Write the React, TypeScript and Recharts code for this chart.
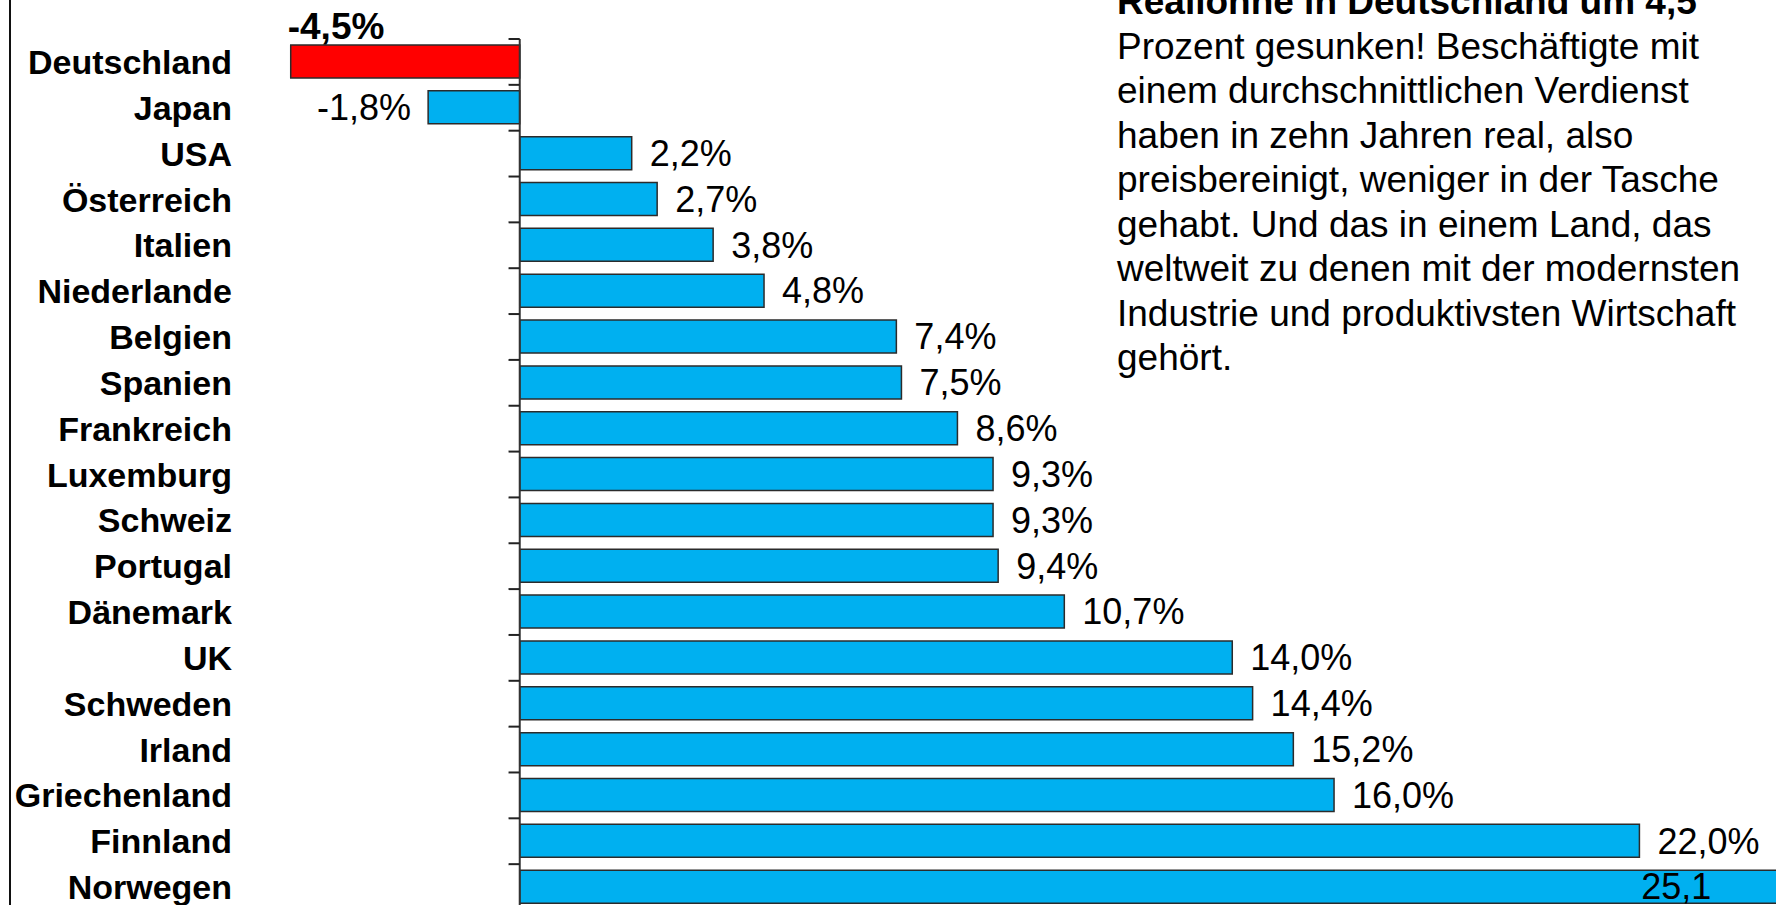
import React from 'react';
import { BarChart, Bar, XAxis, YAxis, Cell, LabelList, ReferenceLine } from 'recharts';

const countries = [
  'Deutschland', 'Japan', 'USA', 'Österreich', 'Italien', 'Niederlande', 'Belgien',
  'Spanien', 'Frankreich', 'Luxemburg', 'Schweiz', 'Portugal', 'Dänemark', 'UK',
  'Schweden', 'Irland', 'Griechenland', 'Finnland', 'Norwegen',
];
const changes = [
  -4.5, -1.8, 2.2, 2.7, 3.8, 4.8, 7.4, 7.5, 8.6, 9.3, 9.3, 9.4, 10.7, 14.0, 14.4,
  15.2, 16.0, 22.0, 25.1,
];
const valueLabels = [
  '-4,5%', '-1,8%', '2,2%', '2,7%', '3,8%', '4,8%', '7,4%', '7,5%', '8,6%', '9,3%',
  '9,3%', '9,4%', '10,7%', '14,0%', '14,4%', '15,2%', '16,0%', '22,0%', '25,1',
];
const highlighted = 'Deutschland';
const noteTitle = 'Reallöhne in Deutschland um 4,5';
const noteLines = [
  'Prozent gesunken! Beschäftigte mit',
  'einem durchschnittlichen Verdienst',
  'haben in zehn Jahren real, also',
  'preisbereinigt, weniger in der Tasche',
  'gehabt. Und das in einem Land, das',
  'weltweit zu denen mit der modernsten',
  'Industrie und produktivsten Wirtschaft',
  'gehört.',
];

const data = countries.map((name, i) => ({ name, value: changes[i] }));

const FONT = '"Liberation Sans", Arial, sans-serif';
const BLUE = '#00B0F0';
const RED = '#FF0000';
const EDGE = '#2b2b2b';

const renderValueLabel = (props: any) => {
  const { x, y, width, height, index } = props;
  const left = Math.min(x, x + width);
  const right = Math.max(x, x + width);
  const cy = y + height / 2;
  const v = changes[index];
  const text = valueLabels[index];
  const common = { fontFamily: FONT, fontSize: 36, fill: '#000' };
  if (countries[index] === highlighted) {
    return (
      <text x={left - 3} y={y - 6} fontWeight="bold" {...common} fontSize={37}>
        {text}
      </text>
    );
  }
  if (v < 0) {
    return (
      <text x={left - 17} y={cy} dy="0.355em" textAnchor="end" {...common}>
        {text}
      </text>
    );
  }
  if (index === countries.length - 1) {
    return (
      <text x={right - 156} y={cy} dy="0.355em" {...common}>
        {text}
      </text>
    );
  }
  return (
    <text x={right + 18} y={cy} dy="0.355em" {...common}>
      {text}
    </text>
  );
};

export default function App() {
  return (
    <div
      style={{
        position: 'absolute',
        left: 0,
        top: 0,
        width: 1776,
        height: 905,
        overflow: 'hidden',
        background: '#fff',
      }}
    >
      <div
        style={{
          position: 'absolute',
          left: 9,
          top: 0,
          width: 2,
          height: 905,
          background: '#111',
        }}
      />
      <div style={{ position: 'absolute', left: 0, top: 0 }}>
        <BarChart
          width={1850}
          height={915}
          data={data}
          layout="vertical"
          margin={{ top: 39, right: 7, bottom: 5, left: 0 }}
        >
          <XAxis type="number" domain={[-5.3, 26]} allowDataOverflow hide />
          <YAxis
            type="category"
            dataKey="name"
            width={250}
            axisLine={false}
            tickLine={false}
            tickSize={0}
            tickMargin={18}
            interval={0}
            tick={{ fill: '#000', fontSize: 34, fontWeight: 'bold', fontFamily: FONT }}
          />
          <Bar
            dataKey="value"
            barSize={33}
            stroke={EDGE}
            strokeWidth={1.5}
            isAnimationActive={false}
          >
            {data.map((d) => (
              <Cell key={d.name} fill={d.name === highlighted ? RED : BLUE} />
            ))}
            <LabelList dataKey="value" content={renderValueLabel} />
          </Bar>
          <ReferenceLine x={0} stroke="#333" strokeWidth={2} />
          {countries.map((c) => (
            <ReferenceLine
              key={'t' + c}
              position="start"
              segment={[
                { x: -0.22, y: c },
                { x: 0, y: c },
              ]}
              stroke="#222"
              strokeWidth={2}
            />
          ))}
        </BarChart>
      </div>
      <div
        style={{
          position: 'absolute',
          left: 1117,
          top: -20,
          fontFamily: FONT,
          fontSize: 37,
          lineHeight: '44.5px',
          color: '#000',
          whiteSpace: 'pre',
        }}
      >
        <div style={{ fontWeight: 'bold' }}>{noteTitle}</div>
        {noteLines.map((l, i) => (
          <div key={i}>{l}</div>
        ))}
      </div>
    </div>
  );
}
